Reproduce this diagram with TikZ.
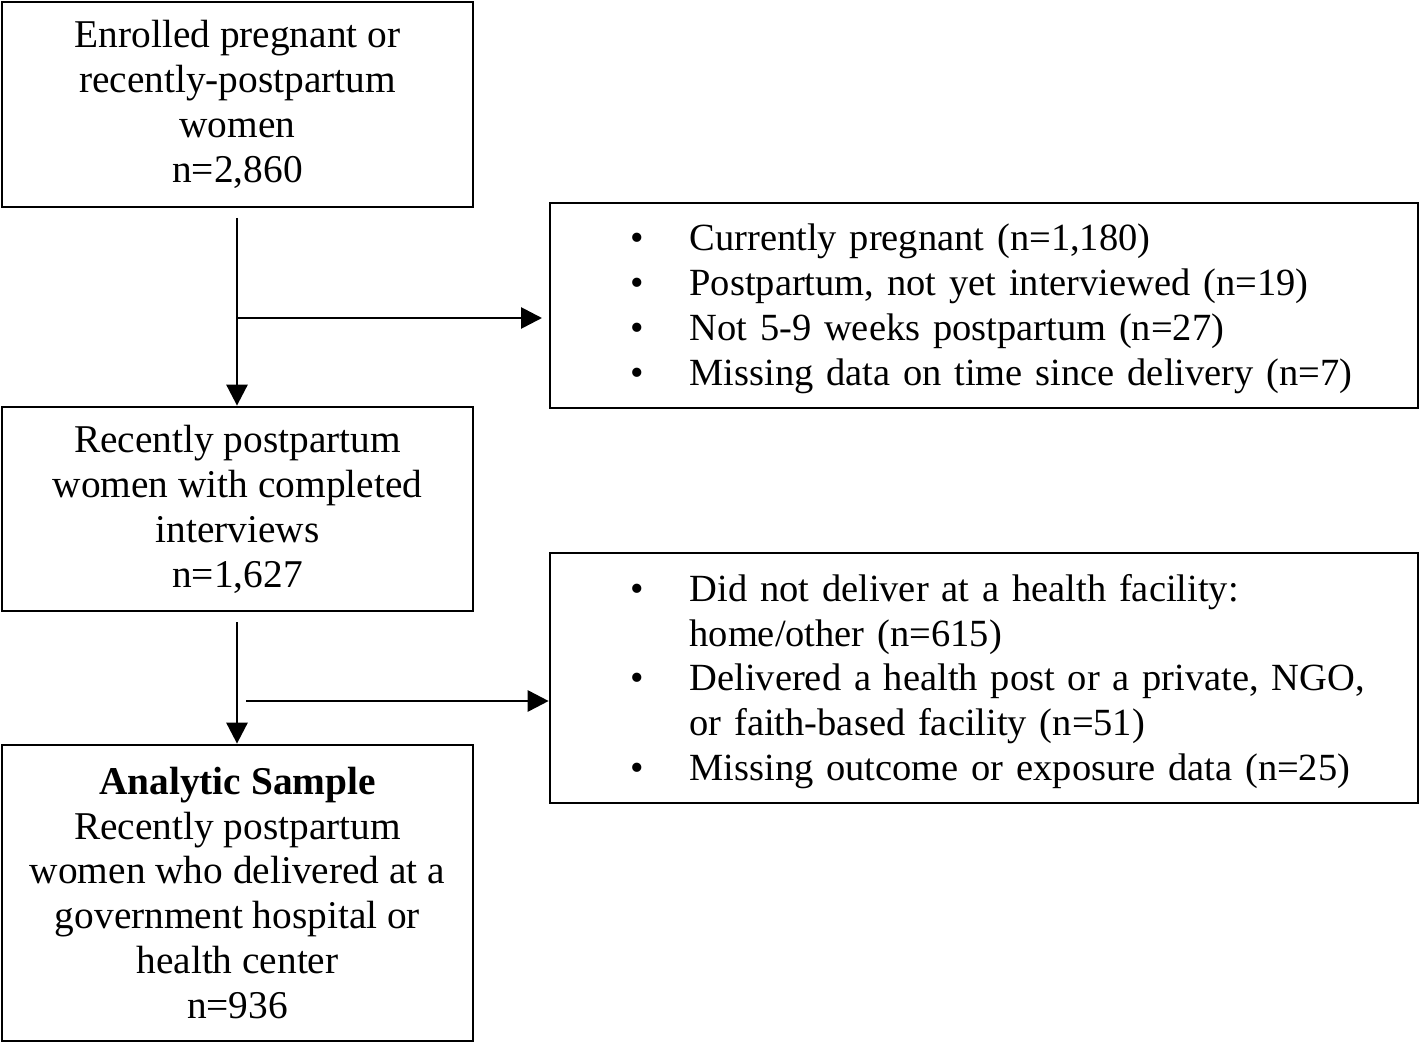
\documentclass[tikz,border=0pt]{standalone}
\usepackage{fontspec}
\setmainfont{Liberation Serif}
\usetikzlibrary{arrows.meta}
\begin{document}
\begin{tikzpicture}[x=0.02cm,y=-0.02cm,
  every node/.style={font=\fontsize{22.4}{25.6}\selectfont},
  leftbox/.style={draw,line width=1.6pt,minimum width=9.42cm,inner sep=0pt,align=center},
  rightbox/.style={draw,line width=1.6pt,inner xsep=1.6cm,inner ysep=0pt,text width=14.16cm,align=left,minimum height=4.1cm,font=\fontsize{21.9}{25.6}\selectfont},
  arr/.style={line width=1.6pt,-{Triangle[length=0.42cm,width=0.42cm]}},
  ln/.style={line width=1.6pt}]
\useasboundingbox (0,0) rectangle (1424,1044);
\node[leftbox,minimum height=4.1cm] (a) at (237.5,104.5) {Enrolled pregnant or\\recently-postpartum\\women\\n=2,860};
\node[rightbox,minimum height=4.1cm] (b) at (984,305.5) {\vspace*{-0.14cm}\begin{tabular}{@{}l@{\hspace{0.92cm}}l@{}}
\textbullet & Currently pregnant (n=1,180)\\
\textbullet & Postpartum, not yet interviewed (n=19)\\
\textbullet & Not 5-9 weeks postpartum (n=27)\\
\textbullet & Missing data on time since delivery (n=7)
\end{tabular}};
\node[leftbox,minimum height=4.08cm] (c) at (237.5,509) {Recently postpartum\\women with completed\\interviews\\n=1,627};
\node[rightbox,minimum height=5.0cm] (d) at (984,678) {\vspace*{-0.16cm}\begin{tabular}{@{}l@{\hspace{0.92cm}}l@{}}
\textbullet & Did not deliver at a health facility:\\
 & home/other (n=615)\\
\textbullet & Delivered a health post or a private, NGO,\\
 & or faith-based facility (n=51)\\
\textbullet & Missing outcome or exposure data (n=25)
\end{tabular}};
\node[leftbox,minimum height=5.92cm] (e) at (237.5,893) {\textbf{Analytic Sample}\\Recently postpartum\\women who delivered at a\\government hospital or\\health center\\n=936};
\coordinate (s1) at (237,218);
\coordinate (j1) at (237,318);
\coordinate (t1) at (542,318);
\coordinate (s2) at (237,622);
\coordinate (j2) at (246,701);
\draw[arr] (s1) -- (s1 |- c.north);
\draw[arr] (j1) -- (t1);
\draw[arr] (s2) -- (s2 |- e.north);
\draw[arr] (j2) -- (j2 -| d.west);
\end{tikzpicture}
\end{document}
